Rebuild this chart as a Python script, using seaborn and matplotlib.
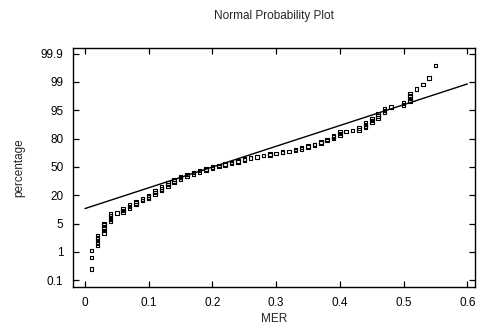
import matplotlib
matplotlib.use("Agg")
import matplotlib.pyplot as plt
import seaborn as sns
import pandas as pd

# ---- data ----
# MER value of each observation (sorted) and its plotted normal score position
mer = ([0.01] * 3 + [0.02] * 5 + [0.03] * 5 + [0.04] * 5 + [0.05] * 1 +
       [0.06] * 3 + [0.07] * 3 + [0.08] * 3 + [0.09] * 2 +
       [0.10] * 3 + [0.11] * 3 + [0.12] * 3 + [0.13] * 3 + [0.14] * 3 + [0.15] * 3 +
       [0.16] * 2 + [0.17] * 2 + [0.18] * 2 + [0.19] * 2 + [0.20] * 2 +
       [0.21] * 2 + [0.22] * 2 + [0.23] * 2 + [0.24] * 2 + [0.25] * 2 +
       [0.26] * 1 + [0.27] * 1 + [0.28] * 1 + [0.29] * 2 + [0.30] * 1 +
       [0.31] * 2 + [0.32] * 1 + [0.33] * 2 + [0.34] * 2 + [0.35] * 2 +
       [0.36] * 2 + [0.37] * 2 + [0.38] * 2 + [0.39] * 3 + [0.40] * 3 +
       [0.41] * 1 + [0.42] * 1 + [0.43] * 2 + [0.44] * 4 + [0.45] * 3 +
       [0.46] * 3 + [0.47] * 3 + [0.48] * 1 + [0.50] * 2 + [0.51] * 4 +
       [0.52] * 1 + [0.53] * 1 + [0.54] * 1 + [0.55] * 1)

score = [-3.61, -3.20, -2.95,
         -2.77, -2.68, -2.59, -2.51, -2.42,
         -2.33, -2.24, -2.15, -2.06, -1.99,
         -1.92, -1.85, -1.78, -1.71, -1.66,
         -1.62,
         -1.59, -1.54, -1.48,
         -1.45, -1.39, -1.34,
         -1.32, -1.27, -1.22,
         -1.18, -1.13,
         -1.11, -1.06, -1.01,
         -0.97, -0.91, -0.85,
         -0.83, -0.77, -0.71,
         -0.69, -0.62, -0.56,
         -0.55, -0.49, -0.44,
         -0.42, -0.38, -0.34,
         -0.32, -0.26,
         -0.25, -0.20,
         -0.18, -0.13,
         -0.11, -0.07,
         -0.05, -0.01,
         0.02, 0.05,
         0.07, 0.11,
         0.12, 0.16,
         0.18, 0.21,
         0.25, 0.28,
         0.32,
         0.36,
         0.40,
         0.43, 0.45,
         0.48,
         0.51, 0.53,
         0.55,
         0.58, 0.62,
         0.64, 0.68,
         0.71, 0.74,
         0.77, 0.80,
         0.85, 0.88,
         0.94, 0.97,
         1.01, 1.06, 1.10,
         1.13, 1.18, 1.24,
         1.25,
         1.28,
         1.31, 1.38,
         1.39, 1.45, 1.50, 1.55,
         1.57, 1.64, 1.71,
         1.73, 1.80, 1.87,
         1.92, 1.99, 2.06,
         2.12,
         2.19, 2.26,
         2.33, 2.42, 2.51, 2.59,
         2.75,
         2.91,
         3.15,
         3.58]

# fitted reference line (end points)
line_mer = [0.0, 0.6]
line_score = [-1.47, 2.93]

# axis ticks
x_ticks = [0, 0.1, 0.2, 0.3, 0.4, 0.5, 0.6]
x_tick_labels = ["0", "0.1", "0.2", "0.3", "0.4", "0.5", "0.6"]
pct_labels = ["0.1", "1", "5", "20", "50", "80", "95", "99", "99.9"]
pct_pos = [-4, -3, -2, -1, 0, 1, 2, 3, 4]

df = pd.DataFrame({"MER": mer, "score": score})
df_line = pd.DataFrame({"MER": line_mer, "score": line_score})

sns.set_style("white")
plt.rcParams["font.family"] = ["Liberation Sans", "DejaVu Sans"]

fig = plt.figure(figsize=(4.78, 3.30), dpi=100)
ax = fig.add_axes([73 / 478, 43 / 330, 402 / 478, 239 / 330])

sns.lineplot(data=df_line, x="MER", y="score", ax=ax, color="black", linewidth=1.0)
sns.scatterplot(data=df, x="MER", y="score", ax=ax, marker="s", s=6.5,
                facecolor="none", edgecolor="black", linewidth=0.8, zorder=3)

ax.set_xlim(-0.0188, 0.612)
ax.set_ylim(-4.24, 4.20)
ax.set_xticks(x_ticks)
ax.set_xticklabels(x_tick_labels)
ax.set_yticks(pct_pos)
ax.set_yticklabels(pct_labels)

for s in ax.spines.values():
    s.set_visible(True)
    s.set_color("black")
    s.set_linewidth(1.0)

ax.tick_params(axis="both", direction="in", length=4, width=0.9, labelsize=8.5,
               pad=7, colors="black")
ax.tick_params(axis="x", top=True, bottom=True)
ax.tick_params(axis="y", left=True, right=True)

ax.set_xlabel("MER", fontsize=8.5, labelpad=3)
ax.set_ylabel("percentage", fontsize=8.5, labelpad=11)
ax.set_title("Normal Probability Plot", fontsize=8.5, pad=21)

fig.savefig("out.png", dpi=100)
